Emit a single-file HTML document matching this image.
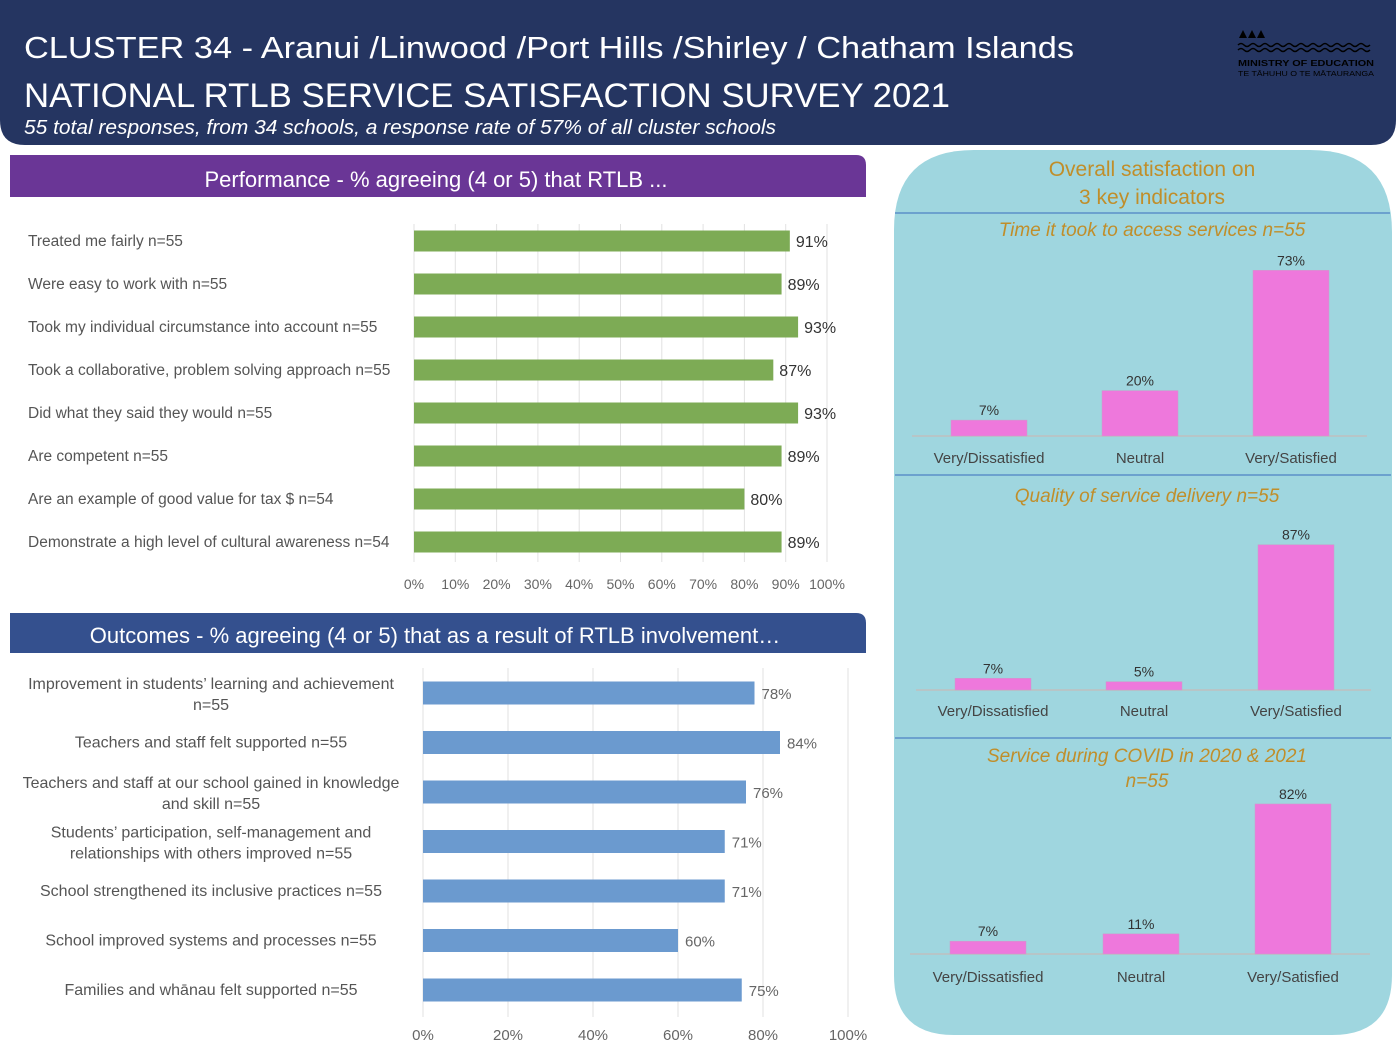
<!DOCTYPE html>
<html><head><meta charset="utf-8">
<style>
html,body{margin:0;padding:0;background:#fff;}
body{width:1398px;height:1046px;overflow:hidden;font-family:"Liberation Sans",sans-serif;}
svg text{font-family:"Liberation Sans",sans-serif;}
</style></head>
<body>
<svg id="page" width="1398" height="1046" viewBox="0 0 1398 1046" xmlns="http://www.w3.org/2000/svg">
  <path d="M0,0 H1396 V120 Q1396,145 1371,145 H25 Q0,145 0,120 Z" fill="#253561"/>
  <text x="24" y="58" fill="#fff" font-size="31" textLength="1050" lengthAdjust="spacingAndGlyphs">CLUSTER 34 - Aranui /Linwood /Port Hills /Shirley / Chatham Islands</text>
  <text x="24" y="107" fill="#fff" font-size="34" textLength="926" lengthAdjust="spacingAndGlyphs">NATIONAL RTLB SERVICE SATISFACTION SURVEY 2021</text>
  <text x="24" y="134" fill="#fff" font-size="20" font-style="italic" textLength="752" lengthAdjust="spacingAndGlyphs">55 total responses, from 34 schools, a response rate of 57% of all cluster schools</text>
  <g>
    <path d="M1239,38 l4,-8 l4,8 z M1248,38 l4,-8 l4,8 z M1257,38 l4,-8 l4,8 z" fill="#000"/>
    <path d="M1238,45 q3,-3 6,0 t6,0 t6,0 t6,0 t6,0 t6,0 t6,0 t6,0 t6,0 t6,0 t6,0 t6,0 t6,0 t6,0 t6,0 t6,0 t6,0 t6,0 t6,0 t6,0 t6,0 t6,0" stroke="#000" stroke-width="1.5" fill="none"/>
    <path d="M1238,50 q3,-3 6,0 t6,0 t6,0 t6,0 t6,0 t6,0 t6,0 t6,0 t6,0 t6,0 t6,0 t6,0 t6,0 t6,0 t6,0 t6,0 t6,0 t6,0 t6,0 t6,0 t6,0 t6,0" stroke="#000" stroke-width="1.5" fill="none"/>
    <text x="1238" y="66" font-size="8" font-weight="bold" fill="#000" textLength="136" lengthAdjust="spacingAndGlyphs">MINISTRY OF EDUCATION</text>
    <text x="1238" y="76" font-size="7" fill="#000" textLength="136" lengthAdjust="spacingAndGlyphs">TE TĀHUHU O TE MĀTAURANGA</text>
  </g>

  <path d="M10,155 H856 Q866,155 866,165 V197 H10 Z" fill="#6a3696"/>
  <text x="436" y="187" fill="#fff" font-size="22" text-anchor="middle">Performance - % agreeing (4 or 5) that RTLB ...</text>
  <path d="M10,613 H856 Q866,613 866,623 V653 H10 Z" fill="#34508e"/>
  <text x="435" y="643" fill="#fff" font-size="22" text-anchor="middle">Outcomes - % agreeing (4 or 5) that as a result of RTLB involvement…</text>

  <g id="perf"></g>
  <g id="outc"></g>

  <path d="M894,230 Q894,150 974,150 H1310 Q1392,150 1392,232 V975 Q1392,1035 1332,1035 H954 Q894,1035 894,975 Z" fill="#9fd6df"/>
  <text x="1152" y="176" fill="#c08e2a" font-size="21" text-anchor="middle">Overall satisfaction on</text>
  <text x="1152" y="204" fill="#c08e2a" font-size="21" text-anchor="middle">3 key indicators</text>
  <line x1="895" y1="213" x2="1390" y2="213" stroke="#5b8fc9" stroke-width="1.5"/>
  <line x1="895" y1="475" x2="1391" y2="475" stroke="#5b8fc9" stroke-width="1.5"/>
  <line x1="895" y1="738" x2="1391" y2="738" stroke="#5b8fc9" stroke-width="1.5"/>
  <text x="1152" y="236" fill="#c08e2a" font-size="19" font-style="italic" text-anchor="middle">Time it took to access services n=55</text>
  <text x="1147" y="502" fill="#c08e2a" font-size="19" font-style="italic" text-anchor="middle">Quality of service delivery n=55</text>
  <text x="1147" y="762" fill="#c08e2a" font-size="19" font-style="italic" text-anchor="middle">Service during COVID in 2020 &amp; 2021</text>
  <text x="1147" y="787" fill="#c08e2a" font-size="19" font-style="italic" text-anchor="middle">n=55</text>
  <g id="sat1"></g>
  <g id="sat2"></g>
  <g id="sat3"></g>
</svg>
<script>
const perfCategories = ["Treated me fairly n=55","Were easy to work with n=55","Took my individual circumstance into account n=55","Took a collaborative, problem solving approach n=55","Did what they said they would n=55","Are competent n=55","Are an example of good value for tax $ n=54","Demonstrate a high level of cultural awareness n=54"];
const perfValues = [91,89,93,87,93,89,80,89];
const perfTicks = [0,10,20,30,40,50,60,70,80,90,100];

const outcCategories = [["Improvement in students’ learning and achievement","n=55"],["Teachers and staff felt supported n=55"],["Teachers and staff at our school gained in knowledge","and skill n=55"],["Students’ participation, self-management and","relationships with others improved n=55"],["School strengthened its inclusive practices n=55"],["School improved systems and processes n=55"],["Families and whānau felt supported n=55"]];
const outcValues = [78,84,76,71,71,60,75];
const outcTicks = [0,20,40,60,80,100];

const satCategories = ["Very/Dissatisfied","Neutral","Very/Satisfied"];
const satAccess = [7,20,73];
const satQuality = [7,5,87];
const satCovid = [7,11,82];

const NS = "http://www.w3.org/2000/svg";
function mk(parent, tag, attrs, txt){
  const e = document.createElementNS(NS, tag);
  for (const k in attrs) e.setAttribute(k, attrs[k]);
  if (txt !== undefined) e.textContent = txt;
  parent.appendChild(e);
  return e;
}

(function(){
  const g = document.getElementById('perf');
  const x0 = 414, x1 = 827, yTop = 224, step = 43, y0 = 241, bh = 21;
  const xs = v => x0 + (x1 - x0) * v / 100;
  perfTicks.forEach(t => {
    const l = mk(g, 'line', {x1: xs(t), x2: xs(t), y1: yTop, y2: 562, stroke: '#e2e2e2', 'stroke-width': 1});
    
    
    const tx = mk(g, 'text', {x: xs(t), y: 589, 'font-size': 14, fill: '#666', 'text-anchor': 'middle'}, t + '%');
    
    
  });
  perfValues.forEach((v, i) => {
    const cy = y0 + i * step;
    const r = mk(g, 'rect', {x: x0, y: cy - bh/2, width: xs(v) - x0, height: bh, fill: '#7dab55'});
    
    
    const vl = mk(g, 'text', {x: xs(v) + 6, y: cy + 6, 'font-size': 16, fill: '#333'}, v + '%');
    
    
    const lb = mk(g, 'text', {x: 28, y: cy + 5, 'font-size': 15.5, fill: '#555'}, perfCategories[i]);
    
    
  });
})();

(function(){
  const g = document.getElementById('outc');
  const x0 = 423, x1 = 848, y0 = 693, step = 49.5, bh = 23;
  const xs = v => x0 + (x1 - x0) * v / 100;
  outcTicks.forEach(t => {
    const l = mk(g, 'line', {x1: xs(t), x2: xs(t), y1: 668, y2: 1017, stroke: '#e2e2e2', 'stroke-width': 1});
    
    
    const tx = mk(g, 'text', {x: xs(t), y: 1040, 'font-size': 15, fill: '#666', 'text-anchor': 'middle'}, t + '%');
    
    
  });
  outcValues.forEach((v, i) => {
    const cy = y0 + i * step;
    const r = mk(g, 'rect', {x: x0, y: cy - bh/2, width: xs(v) - x0, height: bh, fill: '#6b9acf'});
    
    
    const vl = mk(g, 'text', {x: xs(v) + 7, y: cy + 6, 'font-size': 15, fill: '#666'}, v + '%');
    
    
    const lines = outcCategories[i];
    lines.forEach((ln, j) => {
      const yy = lines.length === 1 ? cy + 5 : cy - 4 + j * 21;
      const lb = mk(g, 'text', {x: 211, y: yy, 'font-size': 16, fill: '#555', 'text-anchor': 'middle'}, ln);
      
      
    });
  });
})();

function satChart(id, vals, base, scale, centers, axisX0, axisX1, labelY){
  const g = document.getElementById(id);
  const ax = mk(g, 'line', {x1: axisX0, x2: axisX1, y1: base, y2: base, stroke: '#bfbfbf', 'stroke-width': 1.5});
  
  
  vals.forEach((v, i) => {
    const h = v * scale;
    const r = mk(g, 'rect', {x: centers[i] - 38, y: base - h, width: 76, height: h, fill: '#ee78dc', stroke: '#c8a0c8', 'stroke-width': 0.5});
    
    
    const vl = mk(g, 'text', {x: centers[i], y: base - h - 5, 'font-size': 14, fill: '#333', 'text-anchor': 'middle'}, v + '%');
    
    
    const cl = mk(g, 'text', {x: centers[i], y: labelY, 'font-size': 15, fill: '#444', 'text-anchor': 'middle'}, satCategories[i]);
    
    
  });
}
satChart('sat1', satAccess, 436, 2.27, [989,1140,1291], 912, 1367, 463);
satChart('sat2', satQuality, 690, 1.67, [993,1144,1296], 916, 1371, 716);
satChart('sat3', satCovid, 954, 1.83, [988,1141,1293], 910, 1370, 982);
</script>
</body></html>
